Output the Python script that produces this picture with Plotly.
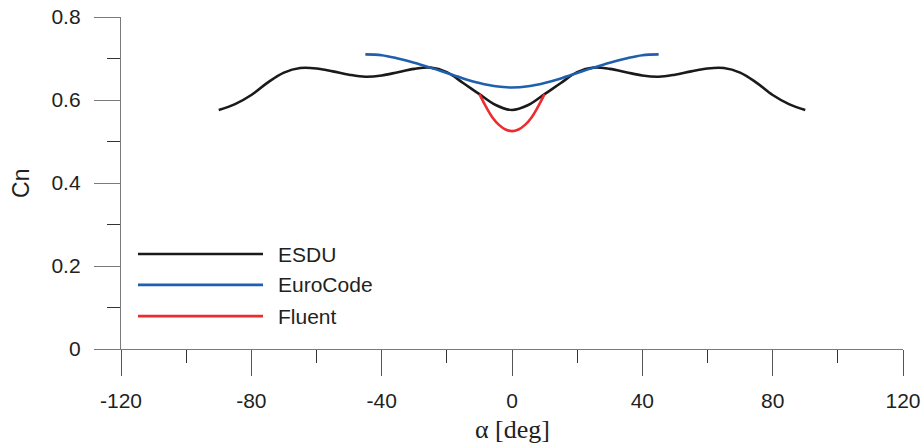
import plotly.graph_objects as go

# ---- data ----
esdu_alpha = [-90, -85, -80, -75, -70, -65, -60, -55, -50, -45, -40, -35, -30, -25, -20, -15, -10, -5, 0,
              5, 10, 15, 20, 25, 30, 35, 40, 45, 50, 55, 60, 65, 70, 75, 80, 85, 90]
esdu_cn = [0.576, 0.590, 0.612, 0.642, 0.666, 0.677, 0.676, 0.669, 0.661, 0.656, 0.659, 0.667, 0.675, 0.678,
           0.667, 0.641, 0.614, 0.588, 0.576,
           0.588, 0.614, 0.641, 0.667, 0.678, 0.675, 0.667, 0.659, 0.656, 0.661, 0.669, 0.676, 0.677,
           0.666, 0.642, 0.612, 0.590, 0.576]

euro_alpha = [-45, -40, -35, -30, -25, -20, -15, -10, -5, 0, 5, 10, 15, 20, 25, 30, 35, 40, 45]
euro_cn = [0.710, 0.708, 0.700, 0.690, 0.678, 0.665, 0.652, 0.641, 0.633, 0.630,
           0.633, 0.641, 0.652, 0.665, 0.678, 0.690, 0.700, 0.708, 0.710]

fluent_alpha = [-10, -8, -6, -4, -2, 0, 2, 4, 6, 8, 10]
fluent_cn = [0.614, 0.584, 0.558, 0.540, 0.529, 0.525, 0.529, 0.540, 0.558, 0.584, 0.614]

x_ticks = [-120, -80, -40, 0, 40, 80, 120]
y_ticks = [0, 0.2, 0.4, 0.6, 0.8]
y_tick_labels = ["0", "0.2", "0.4", "0.6", "0.8"]

series_names = ["ESDU", "EuroCode", "Fluent"]
series_colors = ["#1a1a1a", "#1f5fae", "#ee2b2f"]

SANS = "Liberation Sans, Arial, sans-serif"
SERIF = "Liberation Serif, Times New Roman, serif"
TXT = "#231f20"

fig = go.Figure()
for name, xs, ys, col in zip(series_names,
                             [esdu_alpha, euro_alpha, fluent_alpha],
                             [esdu_cn, euro_cn, fluent_cn],
                             series_colors):
    fig.add_trace(go.Scatter(x=xs, y=ys, mode="lines", name=name,
                             line=dict(color=col, width=2.6, shape="spline", smoothing=1.0),
                             showlegend=False))

# manual legend (long line samples like the reference); paper coords of the plot area
legend_y = [0.286, 0.193, 0.099]
for name, col, ly in zip(series_names, series_colors, legend_y):
    fig.add_shape(type="line", xref="paper", yref="paper",
                  x0=0.0217, x1=0.1816, y0=ly, y1=ly,
                  line=dict(color=col, width=2.6))
    fig.add_annotation(xref="paper", yref="paper", x=0.1985, y=ly, text=name,
                       showarrow=False, xanchor="left", yanchor="middle",
                       font=dict(family=SANS, size=21, color=TXT))

# y-axis title "Cn" (rotated)
fig.add_annotation(xref="paper", yref="paper", x=-0.128, y=0.50, text="Cn",
                   textangle=-90, showarrow=False, xanchor="center", yanchor="middle",
                   font=dict(family=SANS, size=23, color=TXT))

# x-axis title
fig.add_annotation(xref="paper", yref="paper", x=0.5, y=-0.2437, text="α [deg]",
                   showarrow=False, xanchor="center", yanchor="middle", borderpad=0,
                   font=dict(family=SERIF, size=26, color=TXT))

fig.update_layout(
    width=924, height=447,
    margin=dict(l=121, r=21, t=17, b=98),
    paper_bgcolor="white", plot_bgcolor="white",
    font=dict(family=SANS, size=21, color=TXT),
    showlegend=False,
)

fig.update_xaxes(
    range=[-120, 120], tickvals=x_ticks, ticktext=[str(v) for v in x_ticks],
    automargin=False,
    showgrid=False, zeroline=False,
    showline=True, linecolor="#7a7a7a", linewidth=1.3,
    ticks="outside", ticklen=26, tickwidth=1.3, tickcolor="#555555",
    ticklabelstandoff=7,
    minor=dict(dtick=20, tick0=-120, ticks="outside", ticklen=13, tickwidth=1.2,
               tickcolor="#333333", showgrid=False),
    tickfont=dict(family=SANS, size=21, color=TXT),
)
fig.update_yaxes(
    range=[0, 0.8], tickvals=y_ticks, ticktext=y_tick_labels,
    automargin=False,
    showgrid=False, zeroline=False,
    showline=True, linecolor="#7a7a7a", linewidth=1.3,
    ticks="outside", ticklen=26, tickwidth=1.3, tickcolor="#7a7a7a",
    ticklabelstandoff=9,
    minor=dict(dtick=0.1, tick0=0, ticks="outside", ticklen=13, tickwidth=1.2,
               tickcolor="#333333", showgrid=False),
    tickfont=dict(family=SANS, size=21, color=TXT),
)

fig.write_html("out.html")
